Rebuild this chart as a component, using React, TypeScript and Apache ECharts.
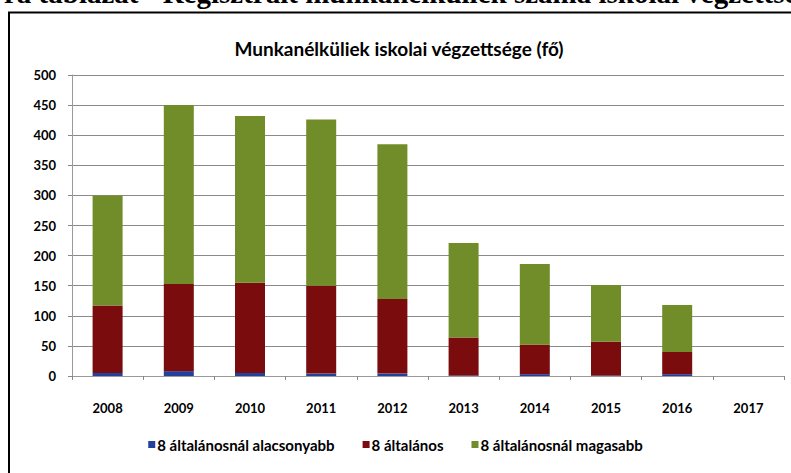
import React, { useEffect, useRef } from "react";
import * as echarts from "echarts";

const categories = ["2008", "2009", "2010", "2011", "2012", "2013", "2014", "2015", "2016", "2017"];
const below8 = [5, 8, 5, 4, 4, 1, 3, 1, 3, null];
const general8 = [112, 145, 150, 146, 124, 63, 49, 56, 37, null];
const above8 = [183, 297, 277, 276, 257, 157, 134, 94, 78, null];
const seriesNames = ["8 általánosnál alacsonyabb", "8 általános", "8 általánosnál magasabb"];
const yTicks = { min: 0, max: 500, interval: 50 };

const FONT = "Lato, 'Open Sans', sans-serif";

export default function App() {
  const ref = useRef<HTMLDivElement>(null);
  useEffect(() => {
    document.body.style.margin = "0";
    const chart = echarts.init(ref.current!, null, { renderer: "svg" });
    const colors = ["#22409c", "#7a0c0e", "#708d29"];
    chart.setOption({
      animation: false,
      backgroundColor: "#ffffff",
      title: {
        text: "Munkanélküliek iskolai végzettsége (fő)",
        left: 394,
        textAlign: "center",
        top: 34,
        textStyle: { fontFamily: FONT, fontWeight: "bold", fontSize: 19, color: "#000" },
      },
      graphic: [
        {
          type: "text",
          left: 4,
          top: -22,
          style: {
            text: "ra táblázat - Regisztrált munkanélküliek száma iskolai végzettsége",
            font: "bold 29px 'Liberation Serif', 'DejaVu Serif', serif",
            fill: "#000",
          },
        },
        {
          type: "rect",
          shape: { x: 9, y: 12.5, width: 800, height: 480 },
          style: { fill: "none", stroke: "#000", lineWidth: 2 },
          z: 10,
        },
      ],
      legend: {
        bottom: 16,
        left: "center",
        itemWidth: 7,
        itemHeight: 7,
        itemGap: 28,
        icon: "rect",
        data: seriesNames,
        textStyle: { fontFamily: FONT, fontWeight: "bold", fontSize: 15, color: "#000", padding: [0, 0, 0, -3] },
      },
      grid: { left: 72, right: 7, top: 75, bottom: 97 },
      xAxis: {
        type: "category",
        data: categories,
        axisLine: { lineStyle: { color: "#999", width: 1 } },
        axisTick: { show: true, length: 4, inside: false, lineStyle: { color: "#888" } },
        axisLabel: { fontFamily: FONT, fontWeight: "bold", fontSize: 13, color: "#000", margin: 25 },
      },
      yAxis: {
        type: "value",
        min: yTicks.min,
        max: yTicks.max,
        interval: yTicks.interval,
        axisLine: { show: true, lineStyle: { color: "#999", width: 1 } },
        axisTick: { show: true, length: 4, lineStyle: { color: "#888" } },
        splitLine: { lineStyle: { color: "#8a8a8a", width: 1 } },
        axisLabel: { fontFamily: FONT, fontWeight: "bold", fontSize: 13, color: "#000", margin: 16 },
      },
      series: [below8, general8, above8].map((d, i) => ({
        name: seriesNames[i],
        type: "bar",
        stack: "total",
        data: d,
        barWidth: 30,
        itemStyle: { color: colors[i] },
      })),
    });
    return () => chart.dispose();
  }, []);
  return <div ref={ref} style={{ width: 791, height: 473, position: "absolute", left: 0, top: 0 }} />;
}
